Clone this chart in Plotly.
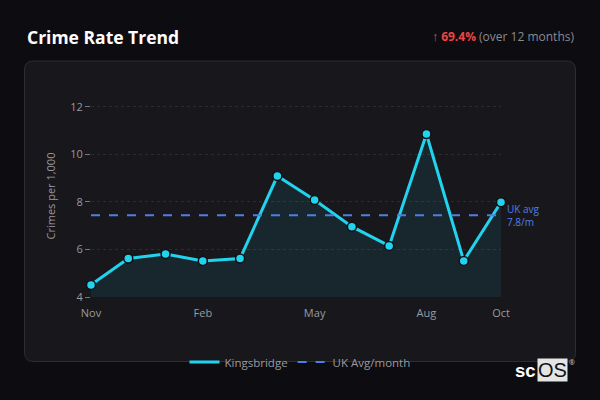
import plotly.graph_objects as go

# monthly values (Nov -> Oct)
months = ["Nov", "Dec", "Jan", "Feb", "Mar", "Apr", "May", "Jun", "Jul", "Aug", "Sep", "Oct"]
kingsbridge = [4.51, 5.62, 5.81, 5.52, 5.62, 9.09, 8.08, 6.96, 6.15, 10.86, 5.52, 7.99]
uk_avg = [7.44] * len(months)
tick_months = ["Nov", "Feb", "May", "Aug", "Oct"]
y_ticks = [4, 6, 8, 10, 12]

CYAN = "#22d3ee"
BLUE = "#4f7fe6"
PAGE = "#0d0c11"
CARD = "#18171c"
GREY = "#9a9a9f"

W, H = 600, 400
L, R, T, B = 91, 99, 95, 103  # plot area in pixels


def px_x(x):
    return (x - L) / (W - L - R)


def px_y(y):
    return (H - B - y) / (H - T - B)


def rounded_rect(x0, y0, x1, y1, r):
    # path in paper units, corners given in pixels
    pts = []
    pts.append(f"M {px_x(x0 + r)},{px_y(y0)}")
    pts.append(f"L {px_x(x1 - r)},{px_y(y0)}")
    pts.append(f"Q {px_x(x1)},{px_y(y0)} {px_x(x1)},{px_y(y0 + r)}")
    pts.append(f"L {px_x(x1)},{px_y(y1 - r)}")
    pts.append(f"Q {px_x(x1)},{px_y(y1)} {px_x(x1 - r)},{px_y(y1)}")
    pts.append(f"L {px_x(x0 + r)},{px_y(y1)}")
    pts.append(f"Q {px_x(x0)},{px_y(y1)} {px_x(x0)},{px_y(y1 - r)}")
    pts.append(f"L {px_x(x0)},{px_y(y0 + r)}")
    pts.append(f"Q {px_x(x0)},{px_y(y0)} {px_x(x0 + r)},{px_y(y0)} Z")
    return " ".join(pts)


fig = go.Figure()

fig.add_trace(go.Scatter(
    x=months, y=kingsbridge, mode="lines+markers", name="Kingsbridge",
    line=dict(color=CYAN, width=3),
    marker=dict(size=9, color=CYAN, line=dict(color="#101015", width=1.5)),
    fill="tozeroy", fillcolor="rgba(34,211,238,0.09)",
    showlegend=False, cliponaxis=False,
))
fig.add_trace(go.Scatter(
    x=months, y=uk_avg, mode="lines", name="UK Avg/month",
    line=dict(color=BLUE, width=2, dash="dash"), showlegend=False,
))

# legend-only entries (line symbols)
fig.add_trace(go.Scatter(x=[None], y=[None], mode="lines", name="Kingsbridge",
                         line=dict(color=CYAN, width=3)))
fig.add_trace(go.Scatter(x=[None], y=[None], mode="lines", name="UK Avg/month",
                         line=dict(color=BLUE, width=2, dash="dash")))

fig.add_annotation(x=months[-1], y=uk_avg[-1], text="UK avg<br>7.8/m", showarrow=False,
                   xanchor="left", yanchor="middle", xshift=4, align="left",
                   font=dict(color=BLUE, size=10))

# header
fig.add_annotation(xref="paper", yref="paper", x=px_x(25), y=px_y(37), text="<b>Crime Rate Trend</b>",
                   showarrow=False, xanchor="left", yanchor="middle",
                   font=dict(color="#ffffff", size=17.5))
fig.add_annotation(xref="paper", yref="paper", x=px_x(576), y=px_y(37),
                   text="<span style='color:#ef4444'>↑ <b>69.4%</b></span> (over 12 months)",
                   showarrow=False, xanchor="right", yanchor="middle",
                   font=dict(color="#8a8a90", size=12))

# logo
fig.add_annotation(xref="paper", yref="paper", x=px_x(538), y=px_y(370), text="<b>sc</b>",
                   showarrow=False, xanchor="right", yanchor="middle",
                   font=dict(color="#ffffff", size=18.5, family="Liberation Sans"))
fig.add_annotation(xref="paper", yref="paper", x=px_x(537), y=px_y(369.5), text="OS",
                   showarrow=False, xanchor="left", yanchor="middle", bgcolor="#e4e4e4",
                   borderpad=0, font=dict(color="#111111", size=20, family="Liberation Sans"))
fig.add_annotation(xref="paper", yref="paper", x=px_x(572), y=px_y(362), text="®",
                   showarrow=False, xanchor="center", yanchor="middle",
                   font=dict(color="#cccccc", size=7))

fig.add_shape(type="path", xref="paper", yref="paper", layer="below",
              path=rounded_rect(24.5, 61, 575.5, 361.5, 9),
              fillcolor=CARD, line=dict(color="#2e2d33", width=1))

fig.update_layout(
    width=W, height=H,
    margin=dict(l=L, r=R, t=T, b=B),
    paper_bgcolor=PAGE, plot_bgcolor="rgba(0,0,0,0)",
    font=dict(family="Open Sans", color=GREY, size=11),
    legend=dict(orientation="h", x=px_x(300), y=px_y(362), xanchor="center", yanchor="middle",
                bgcolor="rgba(0,0,0,0)", font=dict(color=GREY, size=11.5)),
    hovermode="x unified",
)
fig.update_xaxes(type="category", range=[0, len(months) - 1], tickvals=tick_months,
                 showgrid=False, zeroline=False, showline=False, ticks="",
                 ticklabelstandoff=8, tickfont=dict(color=GREY, size=11))
fig.update_yaxes(range=[4, 12.5], tickvals=y_ticks, showgrid=True, gridcolor="rgba(255,255,255,0.09)",
                 griddash="dot", zeroline=False, showline=False, ticks="outside", ticklen=5,
                 tickcolor="#77777c", tickfont=dict(color=GREY, size=11),
                 title=dict(text="Crimes per 1,000", font=dict(color=GREY, size=11), standoff=12))

fig.write_html("out.html", config={"displayModeBar": False},
               post_script="document.body.style.margin='0';document.body.style.background='#0d0c11';")
